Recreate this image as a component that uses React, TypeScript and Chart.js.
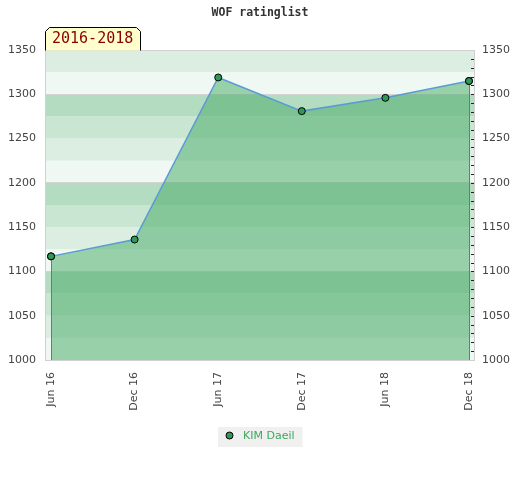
import React, { useEffect, useRef } from "react";
import { Chart, registerables } from "chart.js";

Chart.register(...registerables);

const categories = ["Jun 16", "Dec 16", "Jun 17", "Dec 17", "Jun 18", "Dec 18"];
const ratings = [1117, 1136, 1319, 1281, 1296, 1315];
const seriesName = "KIM Daeil";
const chartTitle = "WOF ratinglist";
const periodLabel = "2016-2018";

const bandColors = ["#eff8f2", "#dbeee1", "#c8e6d1", "#b3dcc0"];

const FONT = "'DejaVu Sans', sans-serif";
const MONO = "'DejaVu Sans Mono', monospace";

const decorPlugin = {
  id: "decor",
  beforeDraw(chart: any) {
    const { ctx, chartArea: a, scales } = chart;
    const y = scales.y;
    ctx.save();
    for (let v = 1000, k = 0; v < 1350; v += 25, k++) {
      const top = y.getPixelForValue(v + 25);
      const bot = y.getPixelForValue(v);
      ctx.fillStyle = bandColors[k % 4];
      ctx.fillRect(a.left, top, a.right - a.left, bot - top);
    }
    ctx.restore();
  },
  beforeDatasetsDraw(chart: any) {
    const { ctx, chartArea: a } = chart;
    ctx.save();
    ctx.strokeStyle = "#d0d0d0";
    ctx.lineWidth = 1;
    ctx.strokeRect(a.left + 0.5, a.top + 0.5, a.right - a.left - 1, a.bottom - a.top);
    ctx.restore();
  },
  afterDatasetsDraw(chart: any) {
    const { ctx, chartArea: a, scales } = chart;
    const meta = chart.getDatasetMeta(0);
    const pts = meta.data;
    ctx.save();
    ctx.strokeStyle = "#3a9a5a";
    ctx.lineWidth = 1;
    [pts[0], pts[pts.length - 1]].forEach((p: any) => {
      const x = Math.round(p.x) + 0.5;
      ctx.beginPath();
      ctx.moveTo(x, p.y + 3.5);
      ctx.lineTo(x, a.bottom);
      ctx.stroke();
    });
    [pts[0], pts[pts.length - 1]].forEach((p: any) => {
      ctx.beginPath();
      ctx.arc(p.x, p.y, 3.5, 0, Math.PI * 2);
      ctx.fillStyle = "#2e9a55";
      ctx.fill();
      ctx.strokeStyle = "#000";
      ctx.stroke();
    });
    const y = scales.y2;
    ctx.strokeStyle = "#222";
    ctx.lineWidth = 1;
    for (let v = 1010; v < 1350; v += 10) {
      const py = Math.round(y.getPixelForValue(v)) + 0.5;
      ctx.beginPath();
      ctx.moveTo(a.right - 4, py);
      ctx.lineTo(a.right - 1, py);
      ctx.stroke();
    }
    ctx.restore();
  },
  afterDraw(chart: any) {
    const { ctx, chartArea: a, width } = chart;
    ctx.save();
    ctx.font = `bold 11.5px ${MONO}`;
    ctx.fillStyle = "#333";
    ctx.textAlign = "center";
    ctx.textBaseline = "middle";
    ctx.fillText(chartTitle, width / 2, 13.5);

    const l = a.left + 0.5, r = 140.5, t = 27.5, b = a.top + 0.5;
    ctx.beginPath();
    ctx.moveTo(l, b);
    ctx.lineTo(l, t + 4);
    ctx.lineTo(l + 4, t);
    ctx.lineTo(r - 4, t);
    ctx.lineTo(r, t + 4);
    ctx.lineTo(r, b);
    ctx.fillStyle = "#ffffcc";
    ctx.fill();
    ctx.strokeStyle = "#000";
    ctx.lineWidth = 1;
    ctx.stroke();
    ctx.font = `15px ${MONO}`;
    ctx.fillStyle = "#8b0000";
    ctx.textAlign = "left";
    ctx.textBaseline = "middle";
    ctx.fillText(periodLabel, 52, 39.5);

    const ds = chart.data.datasets[0];
    ctx.font = `11px ${FONT}`;
    const tw = ctx.measureText(ds.label).width;
    const bw = 25 + tw + 8;
    const bx = Math.round(width / 2 - bw / 2);
    const by = 427;
    ctx.fillStyle = "#f0f0f0";
    ctx.fillRect(bx, by, bw, 20);
    ctx.beginPath();
    ctx.arc(bx + 11.5, by + 8.5, 3.5, 0, Math.PI * 2);
    ctx.fillStyle = ds.pointBackgroundColor;
    ctx.fill();
    ctx.strokeStyle = "#000";
    ctx.stroke();
    ctx.fillStyle = "#3daa5c";
    ctx.textAlign = "left";
    ctx.textBaseline = "middle";
    ctx.fillText(ds.label, bx + 25, by + 9);
    ctx.restore();
  },
};

export default function App() {
  const ref = useRef<HTMLCanvasElement>(null);
  useEffect(() => {
    document.body.style.margin = "0";
    const canvas = ref.current!;
    const chart = new Chart(canvas, {
      type: "line",
      data: {
        datasets: [
          {
            label: seriesName,
            data: ratings.map((v, i) => ({ x: i, y: v })),
            borderColor: "#5b9bd5",
            borderWidth: 1.5,
            backgroundColor: "rgba(72,171,103,0.52)",
            fill: "start",
            tension: 0,
            pointRadius: 3.5,
            pointBackgroundColor: "#2e9a55",
            pointBorderColor: "#000",
            pointBorderWidth: 1,
            yAxisID: "y",
          } as any,
        ],
      },
      options: {
        responsive: false,
        animation: false,
        devicePixelRatio: 1,
        layout: { padding: { top: 50, left: 0, right: 0, bottom: 0 } },
        plugins: {
          legend: { display: false },
          title: { display: false },
          tooltip: { enabled: false },
        },
        scales: {
          x: {
            type: "linear",
            min: -0.072,
            max: 5.072,
            afterBuildTicks: (s: any) => {
              s.ticks = categories.map((_, i) => ({ value: i }));
            },
            afterFit: (s: any) => {
              s.height = 120;
            },
            grid: { display: false, drawTicks: false },
            border: { display: false },
            ticks: {
              autoSkip: false,
              minRotation: 90,
              maxRotation: 90,
              padding: 12,
              color: "#444",
              font: { family: FONT, size: 11 },
              callback: (v: any) => categories[v] ?? "",
            },
          },
          y: {
            position: "left",
            min: 1000,
            max: 1350,
            afterFit: (s: any) => {
              s.width = 45;
            },
            grid: {
              drawTicks: false,
              color: (c: any) =>
                c.tick && c.tick.value % 100 === 0 ? "#d4d4d4" : "rgba(0,0,0,0)",
            },
            border: { display: false },
            ticks: {
              stepSize: 50,
              padding: 9,
              color: "#444",
              font: { family: FONT, size: 11 },
              callback: (v: any) => String(v),
            },
          },
          y2: {
            position: "right",
            min: 1000,
            max: 1350,
            afterFit: (s: any) => {
              s.width = 45;
            },
            grid: { display: false, drawTicks: false },
            border: { display: false },
            ticks: {
              stepSize: 50,
              padding: 7,
              color: "#444",
              font: { family: FONT, size: 11 },
              callback: (v: any) => String(v),
            },
          },
        },
      } as any,
      plugins: [decorPlugin],
    });
    return () => chart.destroy();
  }, []);
  return (
    <div style={{ position: "absolute", left: 0, top: 0, width: 520, height: 480 }}>
      <canvas ref={ref} width={520} height={480} style={{ width: 520, height: 480 }} />
    </div>
  );
}
